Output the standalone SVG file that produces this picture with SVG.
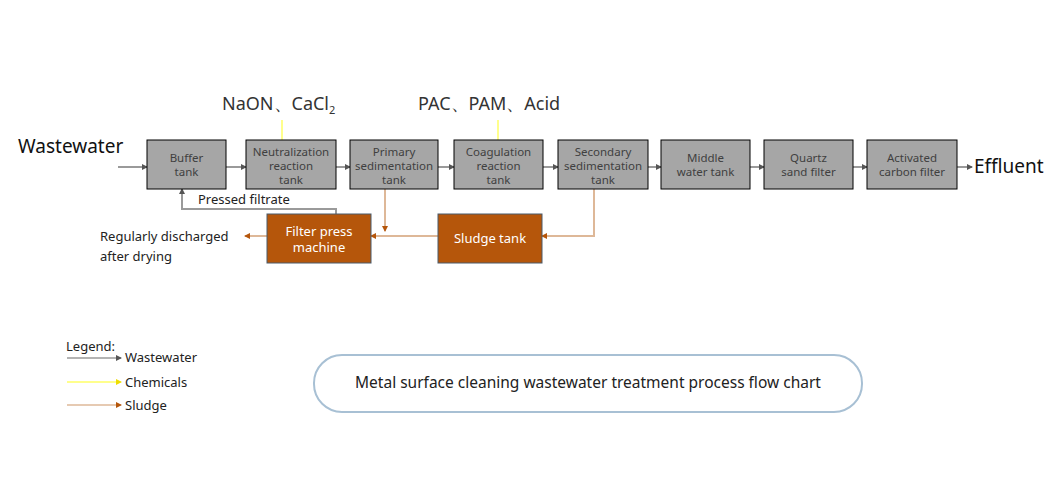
<svg xmlns="http://www.w3.org/2000/svg" width="1050" height="500" viewBox="0 0 1050 500">
<style>
text{font-family:"Noto Sans","Liberation Sans",sans-serif;}
.n rect{fill:#a6a6a6;stroke:#000;stroke-width:1}
.n text{font-size:11.5px;fill:#404040;text-anchor:middle}
.s rect{fill:#b5560b;stroke:#4a5a6a;stroke-width:1}
.s text{font-size:13px;fill:#fff;text-anchor:middle}
.w{stroke:#9a9a9a;stroke-width:2;fill:none;marker-end:url(#mw)}
.c{stroke:#ffff66;stroke-width:1.5;fill:none}
.d{stroke:#deb898;stroke-width:2;fill:none;marker-end:url(#md)}
.t{font-size:13px;fill:#222}
</style>
<defs>
<marker id="mw" markerWidth="6" markerHeight="6" refX="5" refY="3" orient="auto" markerUnits="userSpaceOnUse"><path d="M0,0L6,3L0,6z" fill="#555"/></marker>
<marker id="md" markerWidth="6" markerHeight="6" refX="5" refY="3" orient="auto" markerUnits="userSpaceOnUse"><path d="M0,0L6,3L0,6z" fill="#b5560b"/></marker>
<marker id="mc" markerWidth="6" markerHeight="6" refX="5" refY="3" orient="auto" markerUnits="userSpaceOnUse"><path d="M0,0L6,3L0,6z" fill="#eedd00"/></marker>
</defs>
<rect width="1050" height="500" fill="#fff"/>
<g id="connectors">
<path class="w" d="M118,167H147"/>
<path class="w" d="M226,167H246"/>
<path class="w" d="M336,167H350"/>
<path class="w" d="M438,167H454"/>
<path class="w" d="M543,167H558"/>
<path class="w" d="M648,167H661"/>
<path class="w" d="M750,167H764"/>
<path class="w" d="M853,167H867"/>
<path class="w" d="M957,167H972"/>
<path class="w" d="M336,214V209H182V189"/>
<path class="c" d="M282,120V140"/>
<path class="c" d="M498,120V140"/>
<path class="d" d="M385,189V231"/>
<path class="d" d="M594,189V236H542"/>
<path class="d" d="M438,236H371"/>
<path class="d" d="M267,236H245"/>
</g>
<text x="18" y="153" style="font-size:19px;fill:#111">Wastewater</text>
<text x="974" y="173" style="font-size:19px;fill:#111">Effluent</text>
<text x="222" y="110" style="font-size:18px;fill:#333">NaON、CaCl<tspan dy="4" style="font-size:11px">2</tspan></text>
<text x="418" y="110" style="font-size:18px;fill:#333">PAC、PAM、Acid</text>
<g id="buffer" class="n"><rect x="147" y="140" width="79" height="49"/><text x="186.5" y="162">Buffer</text><text x="186.5" y="176">tank</text></g>
<g id="neutral" class="n"><rect x="246" y="140" width="90" height="49"/><text x="291" y="156">Neutralization</text><text x="291" y="170">reaction</text><text x="291" y="184">tank</text></g>
<g id="primary" class="n"><rect x="350" y="140" width="88" height="49"/><text x="394" y="156">Primary</text><text x="394" y="170">sedimentation</text><text x="394" y="184">tank</text></g>
<g id="coag" class="n"><rect x="454" y="140" width="89" height="49"/><text x="498.5" y="156">Coagulation</text><text x="498.5" y="170">reaction</text><text x="498.5" y="184">tank</text></g>
<g id="secondary" class="n"><rect x="558" y="140" width="90" height="49"/><text x="603" y="156">Secondary</text><text x="603" y="170">sedimentation</text><text x="603" y="184">tank</text></g>
<g id="middle" class="n"><rect x="661" y="140" width="89" height="49"/><text x="705.5" y="162">Middle</text><text x="705.5" y="176">water tank</text></g>
<g id="quartz" class="n"><rect x="764" y="140" width="89" height="49"/><text x="808.5" y="162">Quartz</text><text x="808.5" y="176">sand filter</text></g>
<g id="carbon" class="n"><rect x="867" y="140" width="90" height="49"/><text x="912" y="162">Activated</text><text x="912" y="176">carbon filter</text></g>
<g id="filterpress" class="s"><rect x="267" y="214" width="104" height="49"/><text x="319" y="236">Filter press</text><text x="319" y="252">machine</text></g>
<g id="sludgetank" class="s"><rect x="438" y="214" width="104" height="49"/><text x="490" y="243">Sludge tank</text></g>
<text class="t" x="198" y="204">Pressed filtrate</text>
<text class="t" x="100" y="241">Regularly discharged</text>
<text class="t" x="100" y="261">after drying</text>
<g id="legend">
<text x="66" y="351" style="font-size:13px;fill:#222">Legend:</text>
<path class="w" d="M67,358H121" style="stroke-width:1.5"/>
<text class="t" x="125" y="362">Wastewater</text>
<path d="M67,382H121" stroke="#ffff66" stroke-width="1.5" marker-end="url(#mc)"/>
<text class="t" x="125" y="387">Chemicals</text>
<path class="d" d="M67,405H121" style="stroke-width:1.5"/>
<text class="t" x="125" y="410">Sludge</text>
</g>
<g id="title"><rect x="314" y="355" width="548" height="57" rx="28" fill="#fff" stroke="#a8c0d4" stroke-width="2"/><text x="588" y="388" text-anchor="middle" style="font-size:15.5px;fill:#222">Metal surface cleaning wastewater treatment process flow chart</text></g>
</svg>
